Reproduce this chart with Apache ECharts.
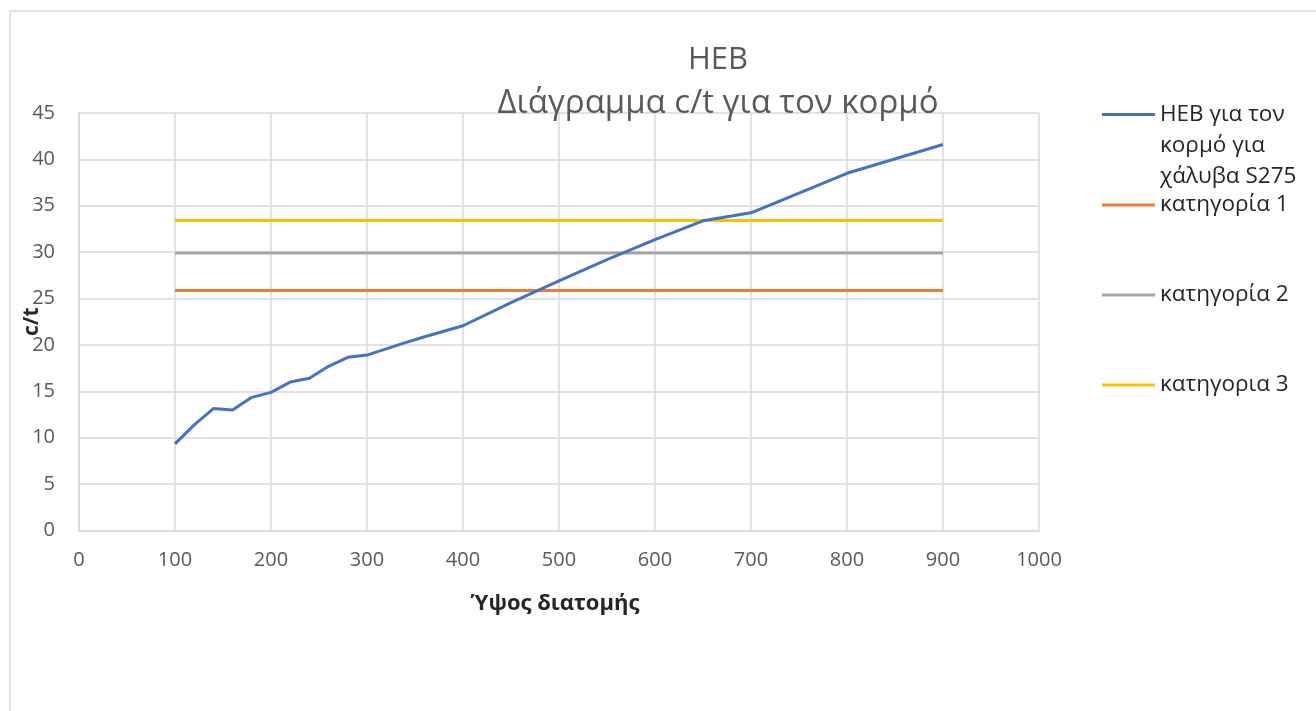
<!DOCTYPE html>
<html>
<head>
<meta charset="utf-8">
<script src="https://cdn.jsdelivr.net/npm/echarts@6/dist/echarts.min.js"></script>
<style>
html,body{margin:0;padding:0;background:#fff;}
#chart{width:1316px;height:711px;}
</style>
</head>
<body>
<div id="chart"></div>
<script>
// Data
const heights = [100,120,140,160,180,200,220,240,260,280,300,320,340,360,400,450,500,550,600,650,700,800,900];
const ctValues = [9.33,11.38,13.14,13.0,14.35,14.89,16.0,16.4,17.7,18.67,18.91,19.57,20.25,20.88,22.07,24.57,26.9,29.2,31.35,33.38,34.24,38.5,41.6];
const classX = [100, 900];
const class1 = [25.87, 25.87];
const class2 = [29.92, 29.92];
const class3 = [33.4, 33.4];
const xTicks = [0,100,200,300,400,500,600,700,800,900,1000];
const yTicks = [0,5,10,15,20,25,30,35,40,45];
const seriesNames = ['HEB για τον κορμό για χάλυβα S275','κατηγορία 1','κατηγορία 2','κατηγορια 3'];

const pairs = (xs, ys) => xs.map((x, i) => [x, ys[i]]);
const FONT = '"Open Sans", "Noto Sans", sans-serif';
const colors = ['#4472C4','#ED7D31','#A5A5A5','#FFC000'];

const chart = echarts.init(document.getElementById('chart'));
const legendBase = {
  orient: 'vertical', left: 1097, itemWidth: 53, itemHeight: 3, itemGap: 0, icon: 'rect',
  textStyle: {fontFamily: FONT, fontSize: 22.5, color: '#262626', lineHeight: 24}
};
chart.setOption({
  animation: false,
  color: colors,
  title: {
    text: '{a|HEB}\n{b|Διάγραμμα c/t για τον κορμό}',
    left: 713, top: 34, textAlign: 'center',
    textStyle: {
      fontFamily: FONT, fontSize: 31, fontWeight: 'normal', color: '#595959', lineHeight: 43,
      rich: {
        a: {fontFamily: FONT, fontSize: 31, color: '#595959', lineHeight: 43},
        b: {fontFamily: FONT, fontSize: 33, color: '#595959', lineHeight: 43}
      }
    }
  },
  graphic: [{
    type: 'rect', shape: {x: 10, y: 11, width: 1400, height: 800},
    style: {fill: 'none', stroke: '#D9D9D9', lineWidth: 1.5}, silent: true
  }],
  legend: [
    Object.assign({}, legendBase, {top: 32, data: [seriesNames[0]],
      formatter: () => '\n\nHEB για τον\nκορμό για\nχάλυβα S275',
      textStyle: Object.assign({}, legendBase.textStyle, {lineHeight: 31})}),
    Object.assign({}, legendBase, {top: 188, data: [seriesNames[1]]}),
    Object.assign({}, legendBase, {top: 278, data: [seriesNames[2]]}),
    Object.assign({}, legendBase, {top: 368, data: [seriesNames[3]]})
  ],
  grid: {left: 79, right: 277, top: 113, bottom: 180.5, containLabel: false},
  xAxis: {
    type: 'value', min: xTicks[0], max: xTicks[xTicks.length-1], interval: 100,
    name: 'Ύψος διατομής', nameLocation: 'middle', nameGap: 62, nameMoveOverlap: false,
    nameTextStyle: {fontFamily: FONT, fontSize: 22, fontWeight: 'bold', color: '#262626', padding: [0, 8, 0, 0]},
    axisLine: {show: true, lineStyle: {color: '#D9D9D9', width: 1.5}},
    axisTick: {show: false},
    axisLabel: {fontFamily: FONT, fontSize: 20, color: '#595959', margin: 20, formatter: v => String(v)},
    splitLine: {show: true, lineStyle: {color: '#D9D9D9', width: 1.5}}
  },
  yAxis: {
    type: 'value', min: yTicks[0], max: yTicks[yTicks.length-1], interval: 5,
    name: 'c/t', nameLocation: 'middle', nameGap: 36, nameRotate: 90, nameMoveOverlap: false,
    nameTextStyle: {fontFamily: FONT, fontSize: 21, fontWeight: 'bold', color: '#262626'},
    axisLine: {show: true, lineStyle: {color: '#D9D9D9', width: 1.5}},
    axisTick: {show: false},
    axisLabel: {fontFamily: FONT, fontSize: 20, color: '#595959', margin: 24, formatter: v => String(v)},
    splitLine: {show: true, lineStyle: {color: '#D9D9D9', width: 1.5}}
  },
  series: [
    {name: seriesNames[0], type: 'line', data: pairs(heights, ctValues), symbol: 'none', lineStyle: {width: 3, color: colors[0]}, z: 5},
    {name: seriesNames[1], type: 'line', data: pairs(classX, class1), symbol: 'none', lineStyle: {width: 3, color: colors[1]}},
    {name: seriesNames[2], type: 'line', data: pairs(classX, class2), symbol: 'none', lineStyle: {width: 3, color: colors[2]}},
    {name: seriesNames[3], type: 'line', data: pairs(classX, class3), symbol: 'none', lineStyle: {width: 3, color: colors[3]}}
  ]
});
</script>
</body>
</html>
